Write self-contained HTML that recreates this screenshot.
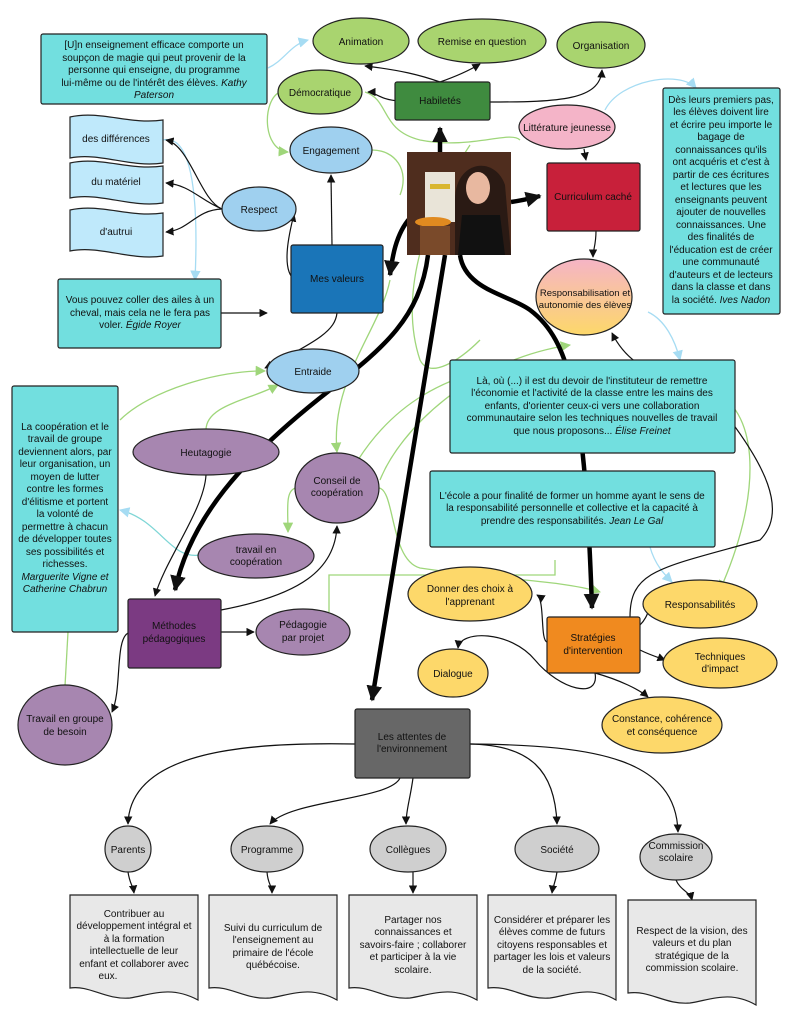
<!DOCTYPE html>
<html><head><meta charset="utf-8"><style>
html,body{margin:0;padding:0;background:#fff;}
svg{display:block;font-family:"Liberation Sans",sans-serif;}
text{font-size:10px;fill:#111;text-anchor:middle;}
.it{font-style:italic;}
</style></head><body>
<svg width="791" height="1024" viewBox="0 0 791 1024" xmlns="http://www.w3.org/2000/svg">
<defs>
<marker id="a" viewBox="0 0 10 10" refX="9" refY="5" markerWidth="7" markerHeight="7" orient="auto"><path d="M0,0L10,5L0,10z" fill="#111"/></marker>
<marker id="ab" viewBox="0 0 10 10" refX="9" refY="5" markerWidth="3.5" markerHeight="3.5" orient="auto"><path d="M0,0L10,5L0,10z" fill="#111"/></marker>
<marker id="ag" viewBox="0 0 10 10" refX="9" refY="5" markerWidth="8" markerHeight="8" orient="auto"><path d="M0,0L10,5L0,10z" fill="#9fd67a"/></marker>
<marker id="al" viewBox="0 0 10 10" refX="9" refY="5" markerWidth="8" markerHeight="8" orient="auto"><path d="M0,0L10,5L0,10z" fill="#a6dcf3"/></marker>
<linearGradient id="rg" x1="0" y1="0" x2="0" y2="1"><stop offset="0" stop-color="#f5b4c6"/><stop offset="1" stop-color="#fdd86a"/></linearGradient>
</defs>

<g fill="none" stroke="#9fd67a" stroke-width="1.3">
<path d="M280,92 C262,100 262,150 288,152" marker-end="url(#ag)"/>
<path d="M372,150 C395,150 410,170 400,195" />
<path d="M365,92 C390,100 380,130 420,140 C470,150 510,130 520,140"/>
<path d="M470,145 C420,220 400,300 420,360 C430,380 460,360 480,340"/>
<path d="M120,420 C150,390 220,370 265,371" marker-end="url(#ag)"/>
<path d="M206,430 C206,405 250,400 278,385" marker-end="url(#ag)"/>
<path d="M390,280 C380,330 330,380 337,452" marker-end="url(#ag)"/>
<path d="M358,460 C390,410 440,370 540,360 C600,360 680,370 720,395 C760,420 760,500 720,590" marker-end="url(#ag)"/>
<path d="M296,488 C285,490 288,510 288,532" marker-end="url(#ag)"/>
<path d="M379,488 C395,490 390,560 420,568 C500,580 560,580 600,592" marker-end="url(#ag)"/>
<path d="M329,612 L329,575 L555,575 L555,560"/>
<path d="M68,632 L65,686"/>
<path d="M380,480 C400,430 470,360 570,345" marker-end="url(#ag)"/>
</g>
<g fill="none" stroke="#a6dcf3" stroke-width="1.3">
<path d="M268,68 C285,60 290,45 308,40" marker-end="url(#al)"/>
<path d="M163,140 C185,135 200,170 195,280" marker-end="url(#al)"/>
<path d="M605,110 C620,80 680,70 696,88" marker-end="url(#al)"/>
<path d="M648,312 C665,320 675,340 680,360" marker-end="url(#al)"/>
<path d="M650,547 C655,565 665,575 672,582" marker-end="url(#al)"/>
<path d="M200,555 C170,560 160,520 120,510" stroke="#7fd6d6" marker-end="url(#al)"/>
</g>

<g fill="none" stroke="#000" stroke-width="4.5">
<path d="M440,152 C440,140 440,132 440,128" marker-end="url(#ab)"/>
<path d="M511,202 C525,200 532,198 540,196" marker-end="url(#ab)"/>
<path d="M410,218 C395,235 392,260 390,275" marker-end="url(#ab)"/>
<path d="M428,255 C420,320 380,350 330,390 C240,460 190,520 175,590" marker-end="url(#ab)"/>
<path d="M445,255 L372,700" marker-end="url(#ab)"/>
<path d="M460,255 C465,290 510,295 530,310 C570,340 585,400 592,608" marker-end="url(#ab)"/>
</g>

<g fill="none" stroke="#111" stroke-width="1.2">
<path d="M400,101 C380,100 375,92 368,92" marker-end="url(#a)"/>
<path d="M440,82 C420,75 400,70 365,66" marker-end="url(#a)"/>
<path d="M440,82 C460,75 470,70 480,64" marker-end="url(#a)"/>
<path d="M490,102 C560,102 600,100 602,70" marker-end="url(#a)"/>
<path d="M332,245 L331,175" marker-end="url(#a)"/>
<path d="M295,280 C280,270 290,230 294,214" marker-end="url(#a)"/>
<path d="M222,209 C200,200 190,145 166,140" marker-end="url(#a)"/>
<path d="M222,209 C200,200 190,185 166,183" marker-end="url(#a)"/>
<path d="M222,209 C195,210 190,230 166,232" marker-end="url(#a)"/>
<path d="M221,313 L267,313" marker-end="url(#a)"/>
<path d="M337,313 C335,330 320,340 265,368" marker-end="url(#a)"/>
<path d="M584,149 L586,160" marker-end="url(#a)"/>
<path d="M596,231 C596,245 593,250 593,257" marker-end="url(#a)"/>
<path d="M206,475 C204,510 165,560 155,596" marker-end="url(#a)"/>
<path d="M221,610 C300,595 335,570 337,526" marker-end="url(#a)"/>
<path d="M221,632 L254,632" marker-end="url(#a)"/>
<path d="M128,633 C115,640 122,690 112,712" marker-end="url(#a)"/>
<path d="M547,642 C540,640 545,600 537,595" marker-end="url(#a)"/>
<path d="M640,625 C650,615 648,605 655,602" marker-end="url(#a)"/>
<path d="M630,617 C630,570 660,568 760,540 C790,510 760,460 730,420 C700,370 640,390 612,333" marker-end="url(#a)"/>
<path d="M640,650 C650,655 660,658 665,660" marker-end="url(#a)"/>
<path d="M595,673 C600,700 560,690 535,660 C510,630 460,630 458,648" marker-end="url(#a)"/>
<path d="M595,673 C620,680 640,690 648,697" marker-end="url(#a)"/>
<path d="M355,744 C250,742 130,750 128,824" marker-end="url(#a)"/>
<path d="M400,778 C390,800 290,800 270,824" marker-end="url(#a)"/>
<path d="M413,778 C410,800 406,810 406,824" marker-end="url(#a)"/>
<path d="M470,744 C530,745 555,770 557,824" marker-end="url(#a)"/>
<path d="M470,744 C600,745 676,760 678,832" marker-end="url(#a)"/>
<path d="M128,872 C130,885 133,885 134,893" marker-end="url(#a)"/>
<path d="M267,872 C268,885 272,885 272,893" marker-end="url(#a)"/>
<path d="M413,872 L413,893" marker-end="url(#a)"/>
<path d="M557,872 C555,885 553,885 552,893" marker-end="url(#a)"/>
<path d="M676,880 C680,890 690,892 692,900" marker-end="url(#a)"/>
</g>

<g fill="#72dfdf" stroke="#222" stroke-width="1.2">
<rect x="41" y="34" width="226" height="70" rx="2"/>
<rect x="58" y="279" width="163" height="69" rx="2"/>
<rect x="12" y="386" width="106" height="246" rx="2"/>
<rect x="663" y="88" width="117" height="226" rx="2"/>
<rect x="450" y="360" width="285" height="93" rx="2"/>
<rect x="430" y="471" width="285" height="76" rx="2"/>
</g>
<text x="154" y="48">[U]n enseignement efficace comporte un</text>
<text x="154" y="61">soupçon de magie qui peut provenir de la</text>
<text x="154" y="73">personne qui enseigne, du programme</text>
<text x="154" y="86">lui-même ou de l'intérêt des élèves. <tspan class="it">Kathy</tspan></text>
<text x="154" y="98" class="it">Paterson</text>
<text x="140" y="303">Vous pouvez coller des ailes à un</text>
<text x="140" y="316">cheval, mais cela ne le fera pas</text>
<text x="140" y="328">voler. <tspan class="it">Égide Royer</tspan></text>
<g>
<text x="65" y="430">La coopération et le</text>
<text x="65" y="442">travail de groupe</text>
<text x="65" y="455">deviennent alors, par</text>
<text x="65" y="467">leur organisation, un</text>
<text x="65" y="480">moyen de lutter</text>
<text x="65" y="492">contre les formes</text>
<text x="65" y="505">d'élitisme et portent</text>
<text x="65" y="517">la volonté de</text>
<text x="65" y="530">permettre à chacun</text>
<text x="65" y="542">de développer toutes</text>
<text x="65" y="555">ses possibilités et</text>
<text x="65" y="567">richesses.</text>
<text x="65" y="580" class="it">Marguerite Vigne et</text>
<text x="65" y="592" class="it">Catherine Chabrun</text>
</g>
<g>
<text x="721" y="103">Dès leurs premiers pas,</text>
<text x="721" y="115">les élèves doivent lire</text>
<text x="721" y="128">et écrire peu importe le</text>
<text x="721" y="140">bagage de</text>
<text x="721" y="153">connaissances qu'ils</text>
<text x="721" y="165">ont acquéris et c'est à</text>
<text x="721" y="178">partir de ces écritures</text>
<text x="721" y="190">et lectures que les</text>
<text x="721" y="203">enseignants peuvent</text>
<text x="721" y="215">ajouter de nouvelles</text>
<text x="721" y="228">connaissances. Une</text>
<text x="721" y="240">des finalités de</text>
<text x="721" y="253">l'éducation est de créer</text>
<text x="721" y="265">une communauté</text>
<text x="721" y="278">d'auteurs et de lecteurs</text>
<text x="721" y="290">dans la classe et dans</text>
<text x="721" y="303">la société. <tspan class="it">Ives Nadon</tspan></text>
</g>
<text x="592" y="384">Là, où (...) il est du devoir de l'instituteur de remettre</text>
<text x="592" y="396">l'économie et l'activité de la classe entre les mains des</text>
<text x="592" y="409">enfants, d'orienter ceux-ci vers une collaboration</text>
<text x="592" y="421">communautaire selon les techniques nouvelles de travail</text>
<text x="592" y="434">que nous proposons... <tspan class="it">Élise Freinet</tspan></text>
<text x="572" y="499">L'école a pour finalité de former un homme ayant le sens de</text>
<text x="572" y="511">la responsabilité personnelle et collective et la capacité à</text>
<text x="572" y="524">prendre des responsabilités. <tspan class="it">Jean Le Gal</tspan></text>

<g fill="#a9d46f" stroke="#222" stroke-width="1.2">
<ellipse cx="361" cy="41" rx="48" ry="23"/>
<ellipse cx="482" cy="41" rx="64" ry="22"/>
<ellipse cx="601" cy="45" rx="44" ry="23"/>
<ellipse cx="320" cy="92" rx="42" ry="22"/>
</g>
<text x="361" y="45">Animation</text>
<text x="482" y="45">Remise en question</text>
<text x="601" y="49">Organisation</text>
<text x="320" y="96">Démocratique</text>
<rect x="395" y="82" width="95" height="38" rx="2" fill="#3f8b3f" stroke="#222" stroke-width="1.2"/>
<text x="440" y="104">Habiletés</text>

<g fill="#9fd0ef" stroke="#222" stroke-width="1.2">
<ellipse cx="331" cy="150" rx="41" ry="23"/>
<ellipse cx="259" cy="209" rx="37" ry="22"/>
<ellipse cx="313" cy="371" rx="46" ry="22"/>
</g>
<text x="331" y="154">Engagement</text>
<text x="259" y="213">Respect</text>
<text x="313" y="375">Entraide</text>
<g fill="#bfe9fb" stroke="#222" stroke-width="1.2">
<path d="M70,117 C100,110 130,125 163,120 L163,163 C130,168 100,152 70,158 Z"/>
<path d="M70,163 C100,156 130,171 163,166 L163,203 C130,208 100,192 70,198 Z"/>
<path d="M70,210 C100,203 130,218 163,213 L163,256 C130,261 100,245 70,251 Z"/>
</g>
<text x="116" y="142">des différences</text>
<text x="116" y="185">du matériel</text>
<text x="116" y="235">d'autrui</text>
<rect x="291" y="245" width="92" height="68" rx="2" fill="#1a75b8" stroke="#222" stroke-width="1.2"/>
<text x="337" y="282">Mes valeurs</text>

<rect x="407" y="152" width="104" height="103" fill="#5a3422"/>
<rect x="407" y="152" width="104" height="103" fill="#3e2418" opacity="0.4"/>
<rect x="425" y="172" width="30" height="50" fill="#e9e4d8"/>
<rect x="430" y="184" width="20" height="5" fill="#d9b630"/>
<ellipse cx="433" cy="222" rx="18" ry="5" fill="#e08a20"/>
<rect x="420" y="226" width="30" height="29" fill="#7a4a2a"/>
<path d="M455,200 C455,160 495,155 505,185 L511,255 L455,255 Z" fill="#2a1a14"/>
<ellipse cx="478" cy="188" rx="12" ry="16" fill="#e8b8a0"/>
<path d="M462,215 L500,215 L505,255 L458,255 Z" fill="#111"/>

<ellipse cx="567" cy="127" rx="48" ry="22" fill="#f4b4c8" stroke="#222" stroke-width="1.2"/>
<text x="567" y="131">Littérature jeunesse</text>
<rect x="547" y="163" width="93" height="68" rx="2" fill="#c8203a" stroke="#222" stroke-width="1.2"/>
<text x="593" y="200">Curriculum caché</text>
<ellipse cx="584" cy="297" rx="48" ry="38" fill="url(#rg)" stroke="#222" stroke-width="1.2"/>
<text x="585" y="296" style="font-size:9.5px">Responsabilisation et</text>
<text x="585" y="308" style="font-size:9.5px">autonomie des élèves</text>

<g fill="#a786b0" stroke="#222" stroke-width="1.2">
<ellipse cx="206" cy="452" rx="73" ry="23"/>
<ellipse cx="337" cy="488" rx="42" ry="35"/>
<ellipse cx="256" cy="556" rx="58" ry="22"/>
<ellipse cx="303" cy="632" rx="47" ry="23"/>
<ellipse cx="65" cy="725" rx="47" ry="40"/>
</g>
<text x="206" y="456">Heutagogie</text>
<text x="337" y="484">Conseil de</text>
<text x="337" y="496">coopération</text>
<text x="256" y="553">travail en</text>
<text x="256" y="565">coopération</text>
<text x="303" y="628">Pédagogie</text>
<text x="303" y="641">par projet</text>
<text x="65" y="722">Travail en groupe</text>
<text x="65" y="735">de besoin</text>
<rect x="128" y="599" width="93" height="69" rx="2" fill="#7b3a82" stroke="#222" stroke-width="1.2"/>
<text x="174" y="629">Méthodes</text>
<text x="174" y="642">pédagogiques</text>

<g fill="#fdd86a" stroke="#222" stroke-width="1.2">
<ellipse cx="470" cy="594" rx="62" ry="27"/>
<ellipse cx="700" cy="604" rx="57" ry="24"/>
<ellipse cx="720" cy="663" rx="57" ry="25"/>
<ellipse cx="453" cy="673" rx="35" ry="24"/>
<ellipse cx="662" cy="725" rx="60" ry="28"/>
</g>
<text x="470" y="592">Donner des choix à</text>
<text x="470" y="605">l'apprenant</text>
<text x="700" y="608">Responsabilités</text>
<text x="720" y="660">Techniques</text>
<text x="720" y="672">d'impact</text>
<text x="453" y="677">Dialogue</text>
<text x="662" y="722">Constance, cohérence</text>
<text x="662" y="735">et conséquence</text>
<rect x="547" y="617" width="93" height="56" rx="2" fill="#f08a1f" stroke="#222" stroke-width="1.2"/>
<text x="593" y="641">Stratégies</text>
<text x="593" y="654">d'intervention</text>

<rect x="355" y="709" width="115" height="69" rx="2" fill="#676767" stroke="#222" stroke-width="1.2"/>
<text x="412" y="740">Les attentes de</text>
<text x="412" y="752">l'environnement</text>
<g fill="#cfcfcf" stroke="#222" stroke-width="1.2">
<ellipse cx="128" cy="849" rx="23" ry="23"/>
<ellipse cx="267" cy="849" rx="36" ry="23"/>
<ellipse cx="408" cy="849" rx="38" ry="23"/>
<ellipse cx="557" cy="849" rx="42" ry="23"/>
<ellipse cx="676" cy="857" rx="36" ry="23"/>
</g>
<text x="128" y="853">Parents</text>
<text x="267" y="853">Programme</text>
<text x="408" y="853">Collègues</text>
<text x="557" y="853">Société</text>
<text x="676" y="849">Commission</text>
<text x="676" y="861">scolaire</text>
<g fill="#e8e8e8" stroke="#222" stroke-width="1.2">
<path d="M70,895 L198,895 L198,1000 C170,985 150,995 130,998 C105,1000 90,985 70,988 Z"/>
<path d="M209,895 L337,895 L337,1000 C310,985 290,995 270,998 C245,1000 230,985 209,988 Z"/>
<path d="M349,895 L477,895 L477,1000 C450,985 430,995 410,998 C385,1000 370,985 349,988 Z"/>
<path d="M488,895 L616,895 L616,1000 C590,985 570,995 550,998 C525,1000 510,985 488,988 Z"/>
<path d="M628,900 L756,900 L756,1005 C730,990 710,1000 690,1003 C665,1005 650,990 628,993 Z"/>
</g>
<text x="134" y="917">Contribuer au</text>
<text x="134" y="929">développement intégral et</text>
<text x="134" y="942">à la formation</text>
<text x="134" y="954">intellectuelle de leur</text>
<text x="134" y="967">enfant et collaborer avec</text>
<text x="108" y="979">eux.</text>
<text x="273" y="931">Suivi du curriculum de</text>
<text x="273" y="943">l'enseignement au</text>
<text x="273" y="956">primaire de l'école</text>
<text x="273" y="968">québécoise.</text>
<text x="413" y="923">Partager nos</text>
<text x="413" y="935">connaissances et</text>
<text x="413" y="948">savoirs-faire ; collaborer</text>
<text x="413" y="960">et participer à la vie</text>
<text x="413" y="973">scolaire.</text>
<text x="552" y="923">Considérer et préparer les</text>
<text x="552" y="935">élèves comme de futurs</text>
<text x="552" y="948">citoyens responsables et</text>
<text x="552" y="960">partager les lois et valeurs</text>
<text x="552" y="973">de la société.</text>
<text x="692" y="934">Respect de la vision, des</text>
<text x="692" y="946">valeurs et du plan</text>
<text x="692" y="959">stratégique de la</text>
<text x="692" y="971">commission scolaire.</text>
</svg>
</body></html>
